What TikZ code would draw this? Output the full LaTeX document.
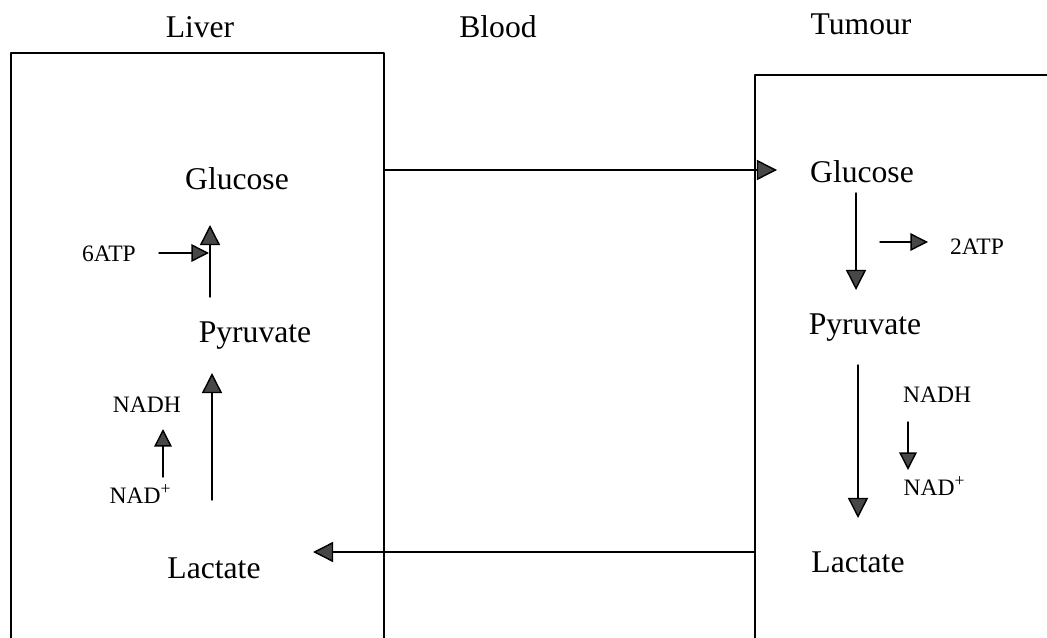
\documentclass[tikz,border=0pt]{standalone}
\usepackage{fontspec}
\setmainfont{Liberation Serif}
\usetikzlibrary{arrows.meta}
\definecolor{tipgrey}{rgb}{0.28,0.28,0.28}
\newcommand{\plusup}{\raisebox{0.75ex}{\fontsize{10}{10}\selectfont +}}

\begin{document}
\begin{tikzpicture}[x=0.02cm,y=-0.02cm,line cap=round,line join=round,
  big/.style={font=\fontsize{18}{20}\selectfont,anchor=base},
  small/.style={font=\fontsize{13.4}{15}\selectfont,anchor=base},
  flow/.style={line width=0.8pt,-{Triangle[length=11.5pt,width=11.5pt,fill=tipgrey]}},
  minor/.style={line width=0.8pt,-{Triangle[length=10pt,width=10pt,fill=tipgrey]}}]
\useasboundingbox (0,0) rectangle (1047,638);
% compartments
\draw [line width=0.8pt] (11,638) |- (384,53) -- (384,638);
\draw [line width=0.8pt] (755,638) |- (1047,75);
\node[big] (liver) at (200,38) {Liver};
\node[big] (blood) at (498,38) {Blood};
\node[big] (tumour) at (861,35) {Tumour};
% liver
\node[big] (glucL) at (237,190) {Glucose};
\node[big] (pyrL) at (255,342) {Pyruvate};
\node[big] (lacL) at (214,578) {Lactate};
\node[small] (atpL) at (109,262) {6ATP};
\node[small] (nadhL) at (147,412) {NADH};
\node[small] (nadL) at (140,503) {NAD\plusup};
\coordinate (pgL-a) at (210,297);
\coordinate (pgL-b) at (210,225);
\coordinate (atpL-a) at (159,253);
\coordinate (atpL-b) at (209,253);
\coordinate (lpL-a) at (212,500);
\coordinate (lpL-b) at (212,373);
\coordinate (nadL-a) at (163,477);
\coordinate (nadL-b) at (163,429);
\draw [flow] (pgL-a) -- (pgL-b);
\draw [minor] (atpL-a) -- (atpL-b);
\draw [flow] (lpL-a) -- (lpL-b);
\draw [minor] (nadL-a) -- (nadL-b);
% tumour
\node[big] (glucT) at (862,183) {Glucose};
\node[big] (pyrT) at (865,335) {Pyruvate};
\node[big] (lacT) at (858,572) {Lactate};
\node[small] (atpT) at (977,255) {2ATP};
\node[small] (nadhT) at (937,402) {NADH};
\node[small] (nadT) at (934,495) {NAD\plusup};
\coordinate (gpT-a) at (856,193);
\coordinate (gpT-b) at (856,290);
\coordinate (atpT-a) at (880,242);
\coordinate (atpT-b) at (928,242);
\coordinate (plT-a) at (858,365);
\coordinate (plT-b) at (858,518);
\coordinate (nadT-a) at (908,422);
\coordinate (nadT-b) at (908,470);
\draw [flow] (gpT-a) -- (gpT-b);
\draw [minor] (atpT-a) -- (atpT-b);
\draw [flow] (plT-a) -- (plT-b);
\draw [minor] (nadT-a) -- (nadT-b);
% blood transport
\coordinate (glucOut) at (384,170);
\coordinate (glucIn) at (777,170);
\coordinate (lacOut) at (755,552);
\coordinate (lacIn) at (313,552);
\draw [flow] (glucOut) -- (glucIn);
\draw [flow] (lacOut) -- (lacIn);
\end{tikzpicture}
\end{document}
